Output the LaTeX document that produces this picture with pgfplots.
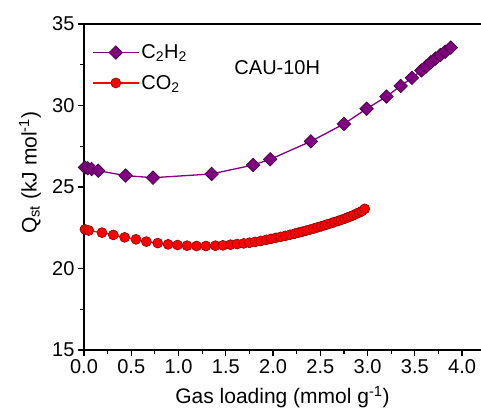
\documentclass[border=0pt]{standalone}
\usepackage{pgfplots}
\pgfplotsset{compat=1.18}
\usepackage{fontspec}
\setmainfont{Liberation Sans}
\definecolor{cpurple}{HTML}{800080}
\definecolor{cpurpleedge}{HTML}{3C003C}
\definecolor{cred}{HTML}{FF0000}
\definecolor{crededge}{HTML}{8B0000}
\begin{document}
\begin{tikzpicture}
\begin{axis}[
  at={(0,0)}, anchor=south west,
  scale only axis,
  width=397bp, height=326bp,
  xmin=0, xmax=4.2, ymin=15, ymax=35,
  axis y line*=left,
  xtick={0,0.5,...,4.0},
  ytick={15,20,25,30,35},
  minor x tick num=1, minor y tick num=1,
  xtick pos=bottom, ytick pos=left,
  tick align=outside,
  major tick length=6bp, minor tick length=4bp,
  axis line style={line width=1.6bp},
  every tick/.style={line width=1.2bp, black},
  /pgf/number format/assume math mode=true,
  xticklabel style={/pgf/number format/.cd, fixed, fixed zerofill, precision=1},
  tick label style={font=\fontsize{20bp}{24bp}\selectfont},
  label style={font=\fontsize{21bp}{25bp}\selectfont},
  xlabel={Gas loading (mmol g\textsuperscript{-1})},
  xlabel style={at={(axis description cs:0.5,0)}, anchor=center, yshift=-47bp},
  legend style={at={(axis description cs:0.02,0.943)}, anchor=north west, draw=none, fill=none,
    font=\fontsize{20bp}{24bp}\selectfont, row sep=11bp, inner sep=0pt},
  legend cell align=left,
  legend image code/.code={\draw[mark repeat=2, mark phase=2, #1] plot coordinates {(0bp,0bp)(23bp,0bp)(46bp,0bp)};},
  clip=false,
]
\addplot[color=cpurple, line width=1.3bp, mark=square*, mark size=4.8bp,
  mark options={rotate=45, fill=cpurple, draw=cpurpleedge, line width=0.6bp}]
  coordinates {
  (0.01,26.20) (0.04,26.15) (0.08,26.10) (0.15,26.00)
  (0.44,25.70) (0.73,25.57) (1.35,25.80) (1.79,26.35) (1.97,26.70)
  (2.40,27.80) (2.75,28.87) (2.99,29.80) (3.20,30.55) (3.35,31.20)
  (3.47,31.70) (3.57,32.15) (3.62,32.40) (3.67,32.65) (3.72,32.88)
  (3.77,33.10) (3.82,33.30) (3.88,33.55)
  };
\addlegendentry{C\textsubscript{2}H\textsubscript{2}}
\addplot[color=cred, line width=1.3bp, mark=*, mark size=5bp,
  mark options={fill=cred, draw=crededge, line width=0.6bp}]
  coordinates {
  (0.01,22.40) (0.05,22.33) (0.19,22.20) (0.31,22.06) (0.43,21.91)
  (0.55,21.79) (0.66,21.65) (0.78,21.56) (0.89,21.48) (0.99,21.44)
  (1.09,21.40) (1.19,21.38) (1.29,21.38) (1.39,21.40) (1.47,21.42)
  (1.55,21.46) (1.62,21.50) (1.69,21.54) (1.75,21.58) (1.81,21.63)
  (1.87,21.69) (1.93,21.76) (1.98,21.82) (2.03,21.88) (2.08,21.94)
  (2.13,22.00) (2.18,22.07) (2.23,22.14) (2.27,22.20) (2.31,22.26)
  (2.35,22.32) (2.39,22.38) (2.43,22.45) (2.47,22.52) (2.51,22.59)
  (2.55,22.66) (2.58,22.72) (2.62,22.79) (2.65,22.85) (2.69,22.92)
  (2.72,22.98) (2.76,23.06) (2.79,23.13) (2.82,23.20) (2.85,23.27)
  (2.88,23.35) (2.91,23.43) (2.94,23.52) (2.97,23.66)
  };
\addlegendentry{CO\textsubscript{2}}
\node[anchor=west, inner sep=0pt, font=\fontsize{20bp}{24bp}\selectfont] at (axis cs:1.59,32.3) {CAU-10H};
\node[rotate=90, anchor=center, inner sep=0pt, font=\fontsize{21bp}{25bp}\selectfont] at (rel axis cs:-0.136,0.544) {Q\textsubscript{st} (kJ mol\textsuperscript{-1})};
\end{axis}
\pgfresetboundingbox
\path[use as bounding box] (-84bp,-62bp) rectangle (397bp,350bp);
\end{tikzpicture}
\end{document}
